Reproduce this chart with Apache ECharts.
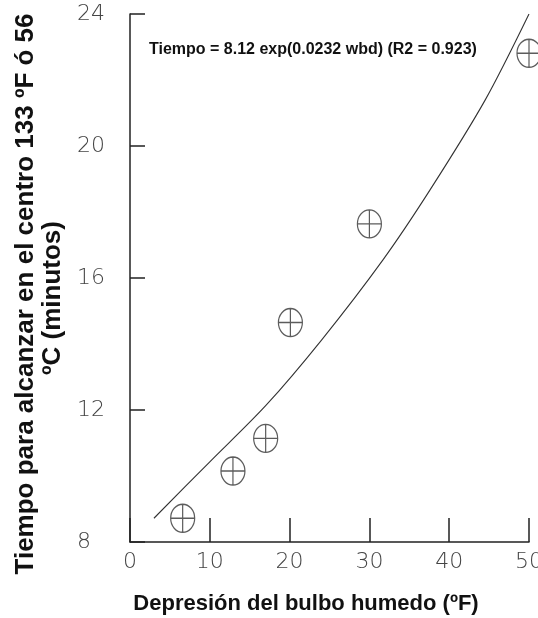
<!DOCTYPE html>
<html>
<head>
<meta charset="utf-8">
<script src="https://cdn.jsdelivr.net/npm/echarts@6/dist/echarts.min.js"></script>
<style>
html,body{margin:0;padding:0;background:#fff;}
#chart{width:538px;height:618px;}
</style>
</head>
<body>
<div id="chart"></div>
<script>
// Observed data points (wet bulb depression °F, time in minutes)
var pointX = [6.6, 12.9, 17.0, 20.1, 30.0, 50.0];
var pointY = [8.72, 10.15, 11.14, 14.65, 17.64, 22.81];

// Fitted curve
var curveX = [3.0, 10.0, 17.0, 24.0, 31.7, 37.6, 44.5, 50.0];
var curveY = [8.72, 10.43, 12.13, 14.12, 16.55, 18.67, 21.39, 24.0];

var xTicks = [0, 10, 20, 30, 40, 50];
var yTicks = [8, 12, 16, 20, 24];

var equationText = 'Tiempo = 8.12 exp(0.0232 wbd) (R2 = 0.923)';
var xTitle = 'Depresión del bulbo humedo (ºF)';
var yTitle1 = 'Tiempo para alcanzar en el centro 133 ºF ó 56';
var yTitle2 = 'ºC (minutos)';

var pts = pointX.map(function (x, i) { return [x, pointY[i]]; });
var curve = curveX.map(function (x, i) { return [x, curveY[i]]; });

var markerPath = 'path://M50,0 A50,50 0 1,1 50,100 A50,50 0 1,1 50,0 Z M0,50 L100,50 M50,0 L50,100';

var tickFont = {fontFamily: 'DejaVu Sans', fontWeight: 200, fontSize: 22, color: '#444'};

var chart = echarts.init(document.getElementById('chart'), null, {renderer: 'canvas'});
chart.setOption({
  backgroundColor: '#fff',
  animation: false,
  grid: {left: 130, right: 9, top: 14, bottom: 76, outerBoundsMode: 'none', containLabel: false},
  xAxis: {
    type: 'value', min: xTicks[0], max: xTicks[xTicks.length - 1], interval: 10,
    axisLine: {show: true, lineStyle: {color: '#222', width: 1.5}},
    axisTick: {show: true, inside: true, length: 24, lineStyle: {color: '#222', width: 1.5}},
    splitLine: {show: false},
    axisLabel: Object.assign({margin: 9, hideOverlap: false, showMaxLabel: true}, tickFont)
  },
  yAxis: {
    type: 'value', min: yTicks[0], max: yTicks[yTicks.length - 1], interval: 4,
    axisLine: {show: true, lineStyle: {color: '#222', width: 1.5}},
    axisTick: {show: true, inside: true, length: 15, lineStyle: {color: '#222', width: 1.5}},
    splitLine: {show: false},
    axisLabel: Object.assign({margin: 53, align: 'left', verticalAlign: 'middle'}, tickFont)
  },
  series: [
    {
      type: 'line', data: curve, smooth: 0.3, showSymbol: false, symbol: 'none',
      lineStyle: {color: '#333', width: 1.1}, silent: true, z: 2
    },
    {
      type: 'scatter', data: pts, symbol: markerPath, symbolSize: [24, 28],
      itemStyle: {color: 'rgba(0,0,0,0)', borderColor: '#333', borderWidth: 1.3}, z: 3
    }
  ],
  graphic: [
    {type: 'text', left: 149, top: 42,
     style: {text: equationText, fontFamily: 'Liberation Sans, Arial', fontWeight: 'bold', fontSize: 16, fill: '#111'}},
    {type: 'text', x: 306, y: 604,
     style: {text: xTitle, fontFamily: 'Liberation Sans, Arial', fontWeight: 'bold', fontSize: 22, fill: '#111', align: 'center', verticalAlign: 'middle'}},
    {type: 'text', x: 26, y: 294, rotation: Math.PI / 2,
     style: {text: yTitle1, fontFamily: 'Liberation Sans, Arial', fontWeight: 'bold', fontSize: 26, fill: '#111', align: 'center', verticalAlign: 'middle'}},
    {type: 'text', x: 53, y: 298, rotation: Math.PI / 2,
     style: {text: yTitle2, fontFamily: 'Liberation Sans, Arial', fontWeight: 'bold', fontSize: 26, fill: '#111', align: 'center', verticalAlign: 'middle'}}
  ]
});
</script>
</body>
</html>
